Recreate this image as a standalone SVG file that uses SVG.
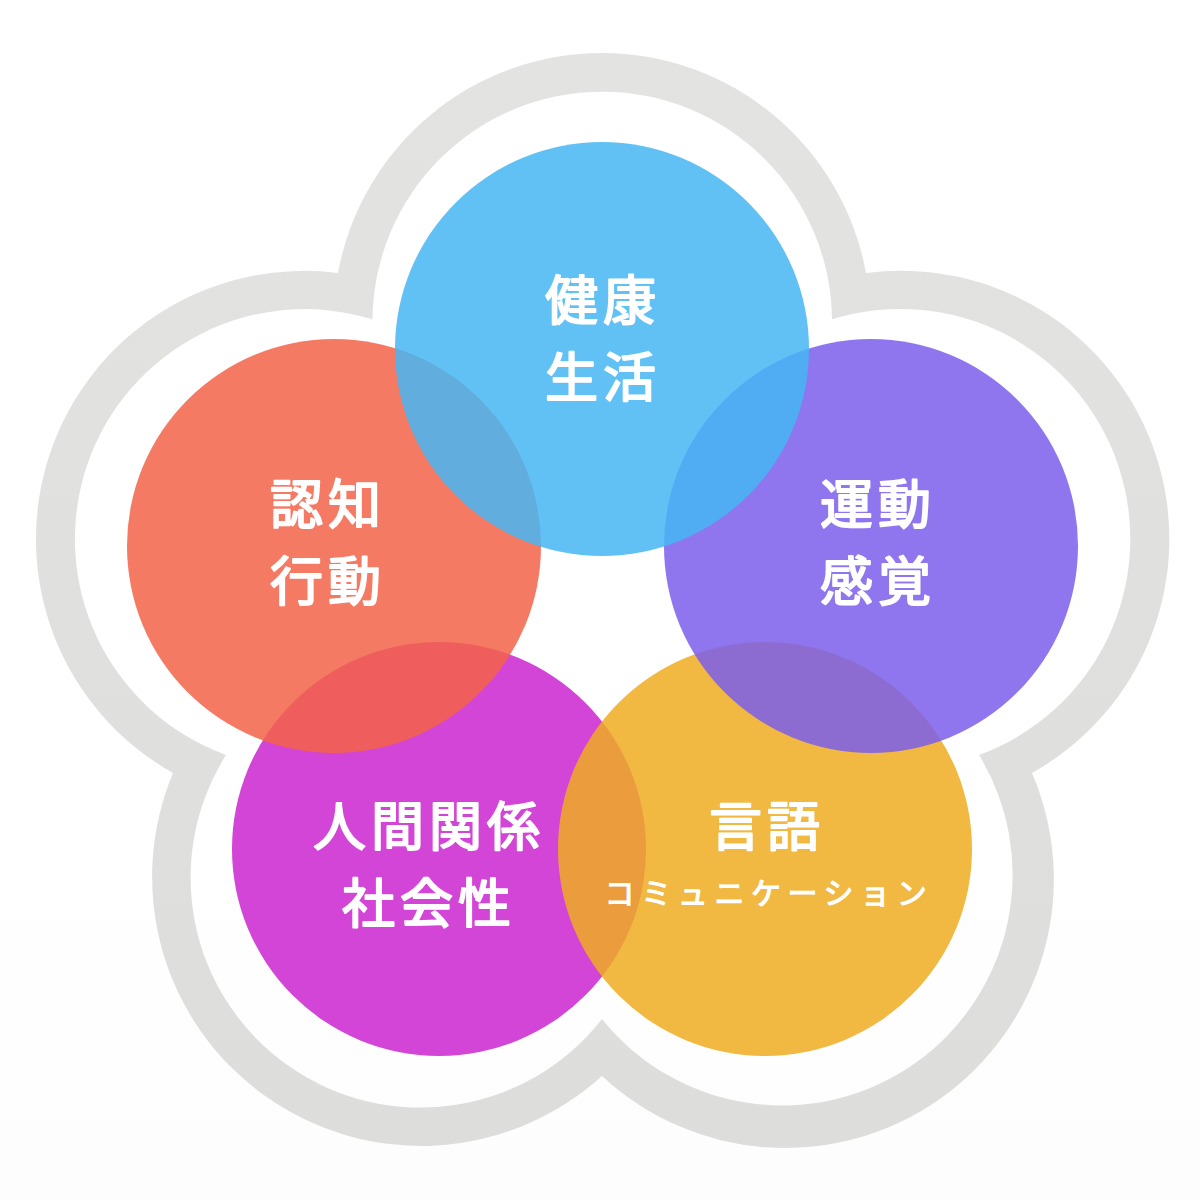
<svg xmlns="http://www.w3.org/2000/svg" width="1200" height="1200" viewBox="0 0 1200 1200">
<defs>
<linearGradient id="bg" x1="0" y1="0" x2="0" y2="1"><stop offset="0.7" stop-color="#ffffff"/><stop offset="1" stop-color="#fdfdfd"/></linearGradient>
<linearGradient id="ring" gradientUnits="userSpaceOnUse" x1="0" y1="53" x2="0" y2="1145"><stop offset="0" stop-color="#e3e3e2"/><stop offset="1" stop-color="#dddddc"/></linearGradient>
</defs>
<style>
.c{fill-opacity:.85}
text{font-family:"Noto Sans CJK JP","Noto Sans CJK SC",sans-serif;fill:#fff;stroke:#fff;stroke-width:2;stroke-linejoin:round;text-anchor:middle;font-weight:400}
.l{font-size:53px;letter-spacing:5px}
.s{font-size:30px;letter-spacing:6.6px;stroke-width:1.2}
</style>
<rect width="1200" height="1200" fill="url(#bg)"/>
<path id="outline" fill="url(#ring)" fill-rule="evenodd" d="M338,273A268.4,268.4 0 0 1 866,273A268.2,268.2 0 0 1 1032,773A268.8,268.8 0 0 1 602,1076A269,269 0 0 1 173,773A268.2,268.2 0 0 1 338,273ZM372.5,319.3A229.76,229.76 0 0 1 832,319.3A229.98,229.98 0 0 1 979,755A230.6,230.6 0 0 1 602,1019A230,230 0 0 1 226,755A229.91,229.91 0 0 1 372.5,319.3Z"/>
<g id="connectors"/>
<g id="node-social">
<circle class="c" cx="439" cy="849" r="207" fill="#cb25cf"/>
<text class="l" x="429" y="846">人間関係</text>
<text class="l" x="429" y="923">社会性</text>
</g>
<g id="node-language">
<circle class="c" cx="765" cy="849" r="207" fill="#eeab21"/>
<text class="l" x="767" y="846">言語</text>
<text class="s" x="769" y="904">コミュニケーション</text>
</g>
<g id="node-motor">
<circle class="c" cx="871" cy="546" r="207" fill="#7b5eeb"/>
<text class="l" x="878" y="524">運動</text>
<text class="l" x="878" y="601">感覚</text>
</g>
<g id="node-cognition">
<circle class="c" cx="334" cy="546" r="207" fill="#f36348"/>
<text class="l" x="328" y="524">認知</text>
<text class="l" x="328" y="601">行動</text>
</g>
<g id="node-health">
<circle class="c" cx="602" cy="349" r="207" fill="#45b6f3"/>
<text class="l" x="603" y="320">健康</text>
<text class="l" x="603" y="397">生活</text>
</g>
</svg>
